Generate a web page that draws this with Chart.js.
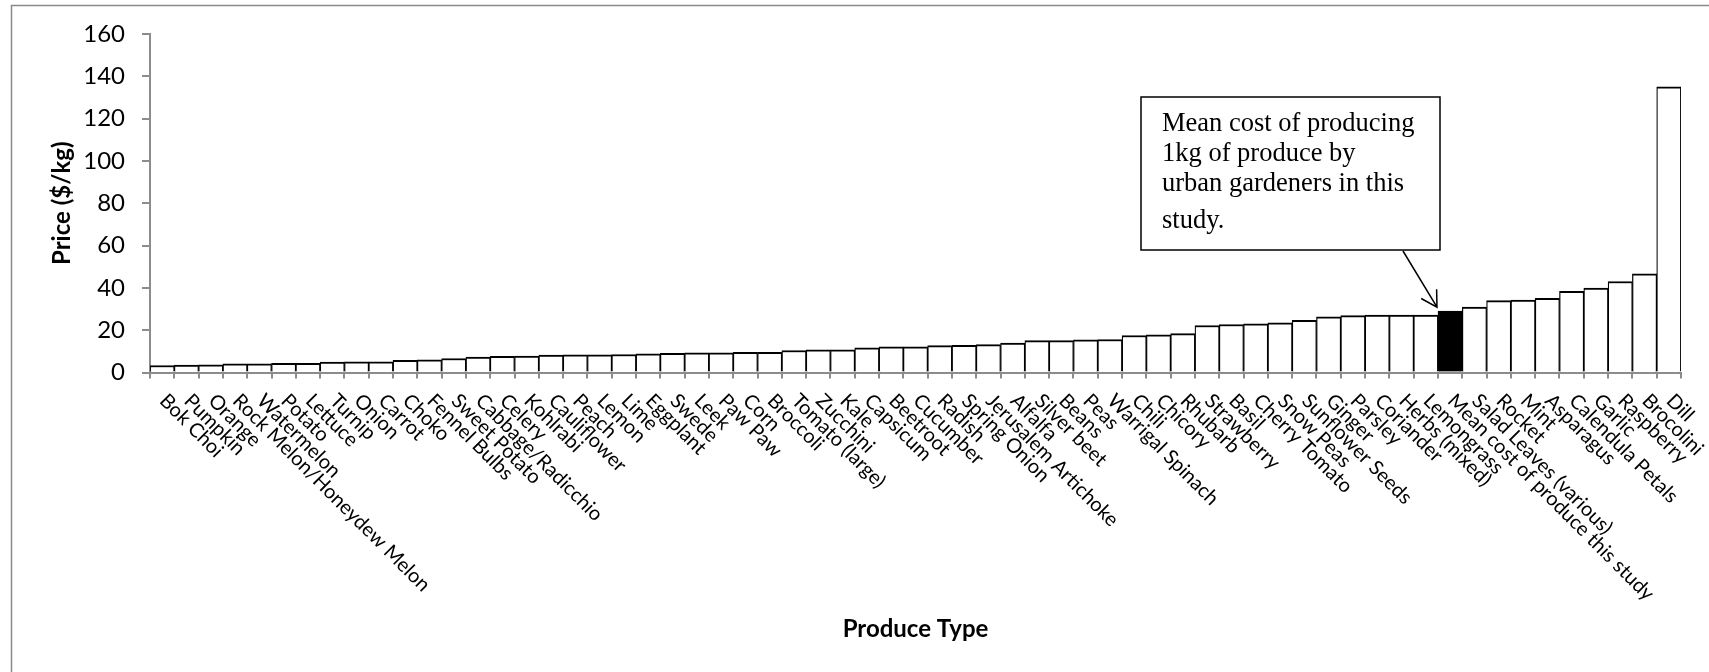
<!DOCTYPE html>
<html>
<head>
<meta charset="utf-8">
<script src="https://cdn.jsdelivr.net/npm/chart.js@4.4.1/dist/chart.umd.min.js"></script>
<style>
  html, body { margin: 0; padding: 0; background: #fff; }
  canvas { display: block; }
</style>
</head>
<body>
<canvas id="chart" width="1709" height="672"></canvas>
<script>
// Produce types, sorted by price
const produce = [
  'Bok Choi', 'Pumpkin', 'Orange', 'Rock Melon/Honeydew Melon', 'Watermelon', 'Potato',
  'Lettuce', 'Turnip', 'Onion', 'Carrot', 'Choko', 'Fennel Bulbs', 'Sweet Potato',
  'Cabbage/Radicchio', 'Celery', 'Kohlrabi', 'Cauliflower', 'Peach', 'Lemon', 'Lime',
  'Eggplant', 'Swede', 'Leek', 'Paw Paw', 'Corn', 'Broccoli', 'Tomato (large)', 'Zucchini',
  'Kale', 'Capsicum', 'Beetroot', 'Cucumber', 'Radish', 'Spring Onion', 'Jerusalem Artichoke',
  'Alfalfa', 'Silver beet', 'Beans', 'Peas', 'Warrigal Spinach', 'Chili', 'Chicory', 'Rhubarb',
  'Strawberry', 'Basil', 'Cherry Tomato', 'Snow Peas', 'Sunflower Seeds', 'Ginger', 'Parsley',
  'Coriander', 'Herbs (mixed)', 'Lemongrass', 'Mean cost of produce this study',
  'Salad Leaves (various)', 'Rocket', 'Mint', 'Asparagus', 'Calendula Petals', 'Garlic',
  'Raspberry', 'Brocolini', 'Dill'
];

// Retail price, $/kg
const price = [
  3.3, 3.5, 3.6, 4.1, 4.1, 4.3,
  4.3, 4.9, 5.0, 5.1, 5.7, 6.0, 6.6,
  7.3, 7.7, 7.8, 8.2, 8.4, 8.4, 8.5,
  8.8, 9.1, 9.3, 9.3, 9.5, 9.5, 10.4, 10.7,
  10.7, 11.7, 12.1, 12.1, 12.7, 12.8, 13.2,
  13.9, 15.1, 15.1, 15.5, 15.6, 17.5, 17.8, 18.4,
  22.2, 22.7, 23.0, 23.5, 24.7, 26.3, 26.9,
  27.1, 27.1, 27.1, 29.0,
  30.9, 34.0, 34.2, 35.1, 38.4, 39.9,
  43.0, 46.6, 135
];

const meanLabel = 'Mean cost of produce this study';
const yTicks = [0, 20, 40, 60, 80, 100, 120, 140, 160];
const calloutLines = ['Mean cost of producing', '1kg of produce by', 'urban gardeners in this', 'study.'];

const meanIdx = produce.indexOf(meanLabel);
const AXIS_GREY = '#8c8c8c';

// Outer frame of the chart object
const framePlugin = {
  id: 'frame',
  beforeDraw(chart) {
    const ctx = chart.ctx;
    ctx.save();
    ctx.strokeStyle = '#8a8a8a';
    ctx.lineWidth = 1.5;
    ctx.strokeRect(11.5, 5.5, 2000, 1000);
    ctx.restore();
  }
};

// Category labels slanted 45° downwards, starting under each bar
const slantLabels = {
  id: 'slantLabels',
  afterDraw(chart) {
    const xs = chart.scales.x;
    const ctx = chart.ctx;
    ctx.save();
    ctx.font = '20px Lato';
    ctx.fillStyle = '#000';
    ctx.textAlign = 'left';
    ctx.textBaseline = 'middle';
    produce.forEach((name, i) => {
      ctx.save();
      ctx.translate(xs.getPixelForValue(i) + 1, xs.top + 25);
      ctx.rotate(Math.PI / 4);
      ctx.fillText(name, 0, 0);
      ctx.restore();
    });
    ctx.restore();
  }
};

// Text box with an arrow pointing at the mean-cost bar
const callout = {
  id: 'callout',
  afterDraw(chart) {
    const ctx = chart.ctx;
    const bar = chart.getDatasetMeta(0).data[meanIdx];
    const box = { x: 1141, y: 97, w: 299, h: 153 };

    ctx.save();
    ctx.fillStyle = '#fff';
    ctx.fillRect(box.x, box.y, box.w, box.h);
    ctx.strokeStyle = '#000';
    ctx.lineWidth = 1.5;
    ctx.strokeRect(box.x, box.y, box.w, box.h);

    ctx.fillStyle = '#000';
    ctx.font = '26.5px "Liberation Serif"';
    ctx.textAlign = 'left';
    ctx.textBaseline = 'alphabetic';
    const baselines = [131, 161, 191, 228];
    calloutLines.forEach((t, i) => ctx.fillText(t, box.x + 21, baselines[i]));

    // arrow from the box to the top-left corner of the mean bar
    const x0 = 1403, y0 = box.y + box.h + 1;
    const x1 = bar.x - bar.width / 2 - 1, y1 = bar.y - 4;
    const ang = Math.atan2(y1 - y0, x1 - x0);
    const head = 18, spread = Math.PI / 6;
    ctx.lineWidth = 1.5;
    ctx.beginPath();
    ctx.moveTo(x0, y0);
    ctx.lineTo(x1, y1);
    ctx.moveTo(x1 - head * Math.cos(ang - spread), y1 - head * Math.sin(ang - spread));
    ctx.lineTo(x1, y1);
    ctx.lineTo(x1 - head * Math.cos(ang + spread), y1 - head * Math.sin(ang + spread));
    ctx.stroke();
    ctx.restore();
  }
};

new Chart(document.getElementById('chart'), {
  type: 'bar',
  data: {
    labels: produce,
    datasets: [{
      data: price,
      backgroundColor: produce.map(p => p === meanLabel ? '#000' : '#fff'),
      borderColor: '#000',
      borderWidth: { top: 2, left: 1.25, right: 1.25, bottom: 0 },
      barPercentage: 1,
      categoryPercentage: 1
    }]
  },
  options: {
    responsive: false,
    animation: false,
    devicePixelRatio: 1,
    layout: { padding: { top: 34, left: 0, right: 28, bottom: 0 } },
    plugins: { legend: { display: false }, tooltip: { enabled: false } },
    scales: {
      x: {
        z: 1,
        offset: true,
        grid: {
          display: true, offset: true, drawOnChartArea: false, drawTicks: true,
          tickLength: 6, color: AXIS_GREY, lineWidth: 2
        },
        border: { display: true, color: AXIS_GREY, width: 2 },
        ticks: { display: false },
        title: {
          display: true, text: 'Produce Type', color: '#000',
          font: { family: 'Lato', size: 24, weight: 'bold' },
          padding: { top: 0, bottom: 28 }
        },
        afterFit(s) { s.height = 299.5; }
      },
      y: {
        min: 0,
        max: 160,
        afterBuildTicks(s) { s.ticks = yTicks.map(v => ({ value: v })); },
        ticks: { padding: 17, color: '#000', font: { family: 'Lato', size: 24 } },
        grid: {
          display: true, drawOnChartArea: false, drawTicks: true,
          tickLength: 8, color: AXIS_GREY, lineWidth: 2
        },
        border: { display: true, color: AXIS_GREY, width: 2 },
        title: {
          display: true, text: 'Price ($/kg)', color: '#000',
          font: { family: 'Lato', size: 24, weight: 'bold' },
          padding: { top: 48, bottom: 0 }
        },
        afterFit(s) { s.width = 150; }
      }
    }
  },
  plugins: [framePlugin, slantLabels, callout]
});
</script>
</body>
</html>
